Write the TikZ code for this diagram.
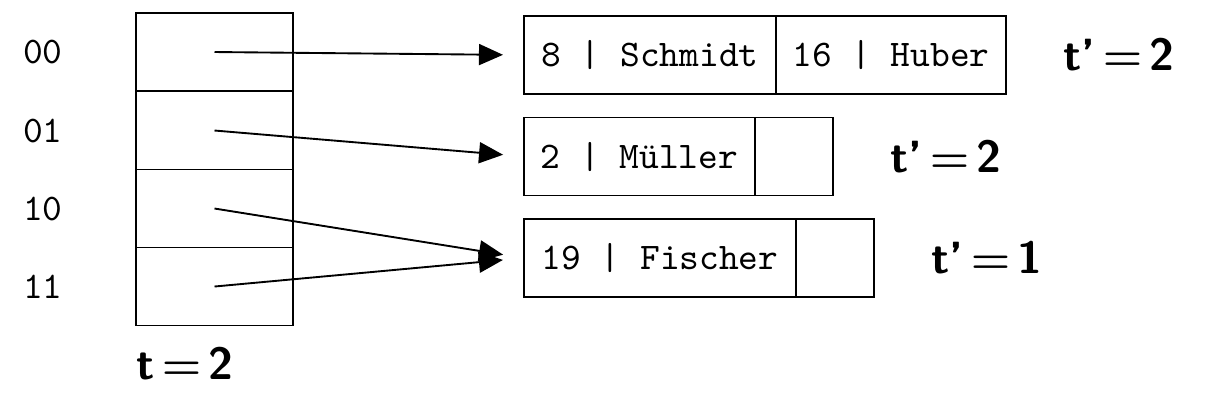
\documentclass[tikz,border=0pt]{standalone}
\usetikzlibrary{positioning,arrows.meta}

\begin{document}
\begin{tikzpicture}[x=0.266pt,y=-0.266pt,line width=0.5pt,
    dircell/.style={draw,minimum width=41.8pt,minimum height=20.75pt,inner sep=0pt,outer sep=0pt},
    cell/.style={draw,font=\ttfamily,minimum height=20.75pt,inner sep=0pt,outer sep=0pt},
    free/.style={draw,minimum width=20.75pt,minimum height=20.75pt,inner sep=0pt,outer sep=0pt},
    depth/.style={font=\large\sffamily\bfseries\boldmath,inner sep=0pt},
    ptr/.style={-{Triangle[length=6.4pt,width=5.6pt]},shorten >=5.6pt}]
    \useasboundingbox (0,0) rectangle (1231,404);

    % directory
    \node[dircell] (d00) at (214.5,52) {};
    \node[dircell] (d01) at (214.5,130.5) {};
    \node[dircell] (d10) at (214.5,208.5) {};
    \node[dircell] (d11) at (214.5,286.5) {};
    \node[font=\ttfamily,inner sep=0pt] (l00) at (43,52) {00};
    \node[font=\ttfamily,inner sep=0pt] (l01) at (43,130.5) {01};
    \node[font=\ttfamily,inner sep=0pt] (l10) at (43,208.5) {10};
    \node[font=\ttfamily,inner sep=0pt] (l11) at (43,286.5) {11};
    \node[depth] (tg) at (185,364) {t\,$=$\,2};

    % buckets
    \node[cell,minimum width=67pt] (b1a) at (650,55) {8 | Schmidt};
    \node[cell,minimum width=61.2pt,right=0pt of b1a] (b1b) {16 | Huber};
    \node[cell,minimum width=61.4pt] (b2a) at (639.5,156.5) {2 | Müller};
    \node[free,right=0pt of b2a] (b2b) {};
    \node[cell,minimum width=72.4pt] (b3a) at (660,258) {19 | Fischer};
    \node[free,right=0pt of b3a] (b3b) {};

    \node[depth,right=15pt of b1b] (t1) {t'\,$=$\,2};
    \node[depth,right=15pt of b2b] (t2) {t'\,$=$\,2};
    \node[depth,right=15pt of b3b] (t3) {t'\,$=$\,1};

    \draw[ptr] (d00.center) -- (b1a.west);
    \draw[ptr] (d01.center) -- (b2a.west);
    \draw[ptr] (d10.center) -- (b3a.west);
    \draw[ptr] (d11.center) -- (b3a.west);
\end{tikzpicture}
\end{document}
